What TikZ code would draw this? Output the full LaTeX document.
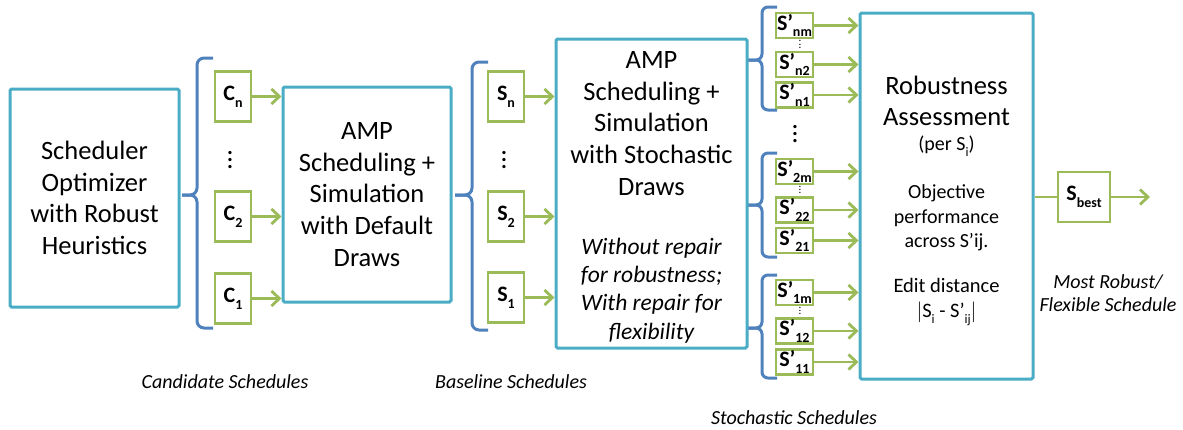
\documentclass[tikz,border=0pt]{standalone}
\usepackage{fontspec}
\setmainfont{Carlito}
\usetikzlibrary{arrows.meta}
\definecolor{boxblue}{HTML}{4BACC6}
\definecolor{braceblue}{HTML}{4F81BD}
\definecolor{sgreen}{HTML}{9BBB59}
\newcommand\lsub[1]{\raisebox{-0.3em}{\fontsize{14}{14}\selectfont #1}}
\newcommand\msub[1]{\raisebox{-0.3em}{\fontsize{13}{13}\selectfont #1}}
\newcommand\bigvd{\vbox{\baselineskip7pt\lineskiplimit-10pt\hbox{\textbf{.}}\hbox{\textbf{.}}\hbox{\textbf{.}}}}
\newcommand\smallvd{\vbox{\baselineskip3.4pt\lineskiplimit-10pt\hbox{.}\hbox{.}\hbox{.}}}
\tikzset{
  bluebox/.style={draw=boxblue, line width=3pt, rounded corners=1.5pt, inner sep=0pt, align=center},
  big/.style={font=\fontsize{26.5}{31.7}\selectfont, align=center, inner sep=0pt},
  ital/.style={font=\fontsize{20}{23}\selectfont\itshape, align=center, inner sep=0pt},
  gbox/.style={draw=sgreen, line width=2.5pt, fill=white, minimum width=36pt, minimum height=50pt, inner sep=0pt, font=\fontsize{22}{22}\selectfont\bfseries},
  sbox/.style={draw=sgreen, line width=2.5pt, fill=white, minimum width=37pt, minimum height=25pt, inner sep=0pt, font=\fontsize{22}{22}\selectfont\bfseries},
  garrow/.style={draw=sgreen, line width=2.8pt, -{Straight Barb[length=8pt,width=15pt]}},
  gline/.style={draw=sgreen, line width=2.8pt},
  bracestyle/.style={draw=braceblue, line width=3pt, rounded corners=7pt},
  dotsnode/.style={inner sep=0pt, font=\fontsize{22}{22}\selectfont},
  smalldots/.style={inner sep=0pt, font=\fontsize{11}{11}\selectfont}
}
\begin{document}
\begin{tikzpicture}[x=1pt,y=-1pt]
\useasboundingbox (0,0) rectangle (1183,429);
% braces
\draw[bracestyle] (213,58) -- (197,58) -- (197,195) -- (182,195);
\draw[bracestyle] (213,328) -- (197,328) -- (197,195) -- (182,195);
\draw[bracestyle] (488,62) -- (472,62) -- (472,195) -- (455,195);
\draw[bracestyle] (488,330) -- (472,330) -- (472,195) -- (455,195);
\draw[bracestyle, rounded corners=6pt] (777,7) -- (762,7) -- (762,60) -- (747,60);
\draw[bracestyle, rounded corners=6pt] (777,110) -- (762,110) -- (762,60) -- (747,60);
\draw[bracestyle, rounded corners=6pt] (777,153) -- (762,153) -- (762,205) -- (747,205);
\draw[bracestyle, rounded corners=6pt] (777,257) -- (762,257) -- (762,205) -- (747,205);
\draw[bracestyle, rounded corners=6pt] (777,275) -- (762,275) -- (762,328) -- (747,328);
\draw[bracestyle, rounded corners=6pt] (777,378) -- (762,378) -- (762,328) -- (747,328);

% main boxes
\node[bluebox, big, minimum width=169pt, minimum height=218pt] (opt) at (94.5,198) {Scheduler\\Optimizer\\with Robust\\Heuristics};
\node[bluebox, big, minimum width=168pt, minimum height=215pt] (def) at (367,194.5) {AMP\\Scheduling +\\Simulation\\with Default\\Draws};
\node[bluebox, minimum width=191pt, minimum height=309pt] (sto) at (651.5,193.5) {};
\node[big] (stoa) at (651.5,123.5) {AMP\\Scheduling +\\Simulation\\with Stochastic\\Draws};
\node[inner sep=0pt, align=center, font=\fontsize{23.5}{28.3}\selectfont\itshape] (stob) at (651.5,290.5) {Without repair\\for robustness;\\With repair for\\flexibility};
\node[bluebox, minimum width=173pt, minimum height=366pt] (rob) at (946.5,196) {};
\node[big] (roba) at (946.5,101) {Robustness\\Assessment};
\node[inner sep=0pt, font=\fontsize{20}{20}\selectfont] (robb) at (946.5,146) {(per S\msub{i})};
\node[inner sep=0pt, align=center, font=\fontsize{20}{24.5}\selectfont] (robc) at (946.5,218) {Objective\\performance\\across S’ij.};
\node[inner sep=0pt, align=center, font=\fontsize{20.5}{25}\selectfont] (robd) at (946.5,302) {Edit distance\\$|$S\msub{i} - S’\msub{ij}$|$};

% candidate schedules
\node[gbox] (cn) at (233,96.5) {C\lsub{n}};
\node[gbox] (c2) at (233,216.5) {C\lsub{2}};
\node[gbox] (c1) at (233,298.5) {C\lsub{1}};
\node[dotsnode] (cd) at (230,160) {\bigvd};
\foreach \n in {cn,c2,c1} \draw[garrow] (\n.east) -- (\n.east -| def.west);

% baseline schedules
\node[gbox] (sn) at (506,96.5) {S\lsub{n}};
\node[gbox] (s2) at (506,216.5) {S\lsub{2}};
\node[gbox] (s1) at (506,297.5) {S\lsub{1}};
\node[dotsnode] (sd) at (504,160) {\bigvd};
\foreach \n in {sn,s2,s1} \draw[garrow] (\n.east) -- (\n.east -| sto.west);

% stochastic schedules
\node[sbox] (pnm) at (794.5,25.5) {S’\lsub{nm}};
\node[sbox] (pn2) at (794.5,64.5) {S’\lsub{n2}};
\node[sbox] (pn1) at (794.5,95) {S’\lsub{n1}};
\node[sbox] (p2m) at (794.5,171.5) {S’\lsub{2m}};
\node[sbox] (p22) at (794.5,210) {S’\lsub{22}};
\node[sbox] (p21) at (794.5,240.5) {S’\lsub{21}};
\node[sbox] (p1m) at (794.5,292.5) {S’\lsub{1m}};
\node[sbox] (p12) at (794.5,331) {S’\lsub{12}};
\node[sbox] (p11) at (794.5,362) {S’\lsub{11}};
\node[dotsnode] (pd) at (795,134) {\bigvd};
\node[smalldots] (pdn) at (800,44.5) {\smallvd};
\node[smalldots] (pd2) at (800,190) {\smallvd};
\node[smalldots] (pd1) at (800,311) {\smallvd};
\foreach \n in {pnm,pn2,pn1,p2m,p22,p21,p1m,p12,p11} \draw[garrow] (\n.east) -- (\n.east -| rob.west);

% best
\node[gbox, minimum width=52pt] (best) at (1084,197) {S\lsub{best}};
\coordinate (out) at (1150,197);
\draw[gline] (rob.east |- best.west) -- (best.west);
\draw[garrow] (best.east) -- (out);

% labels
\node[ital] (lc) at (225,382) {Candidate Schedules};
\node[ital] (lb) at (511,382) {Baseline Schedules};
\node[ital] (ls) at (794,418) {Stochastic Schedules};
\node[ital] (lm) at (1108,293.5) {Most Robust/\\Flexible Schedule};
\end{tikzpicture}
\end{document}
